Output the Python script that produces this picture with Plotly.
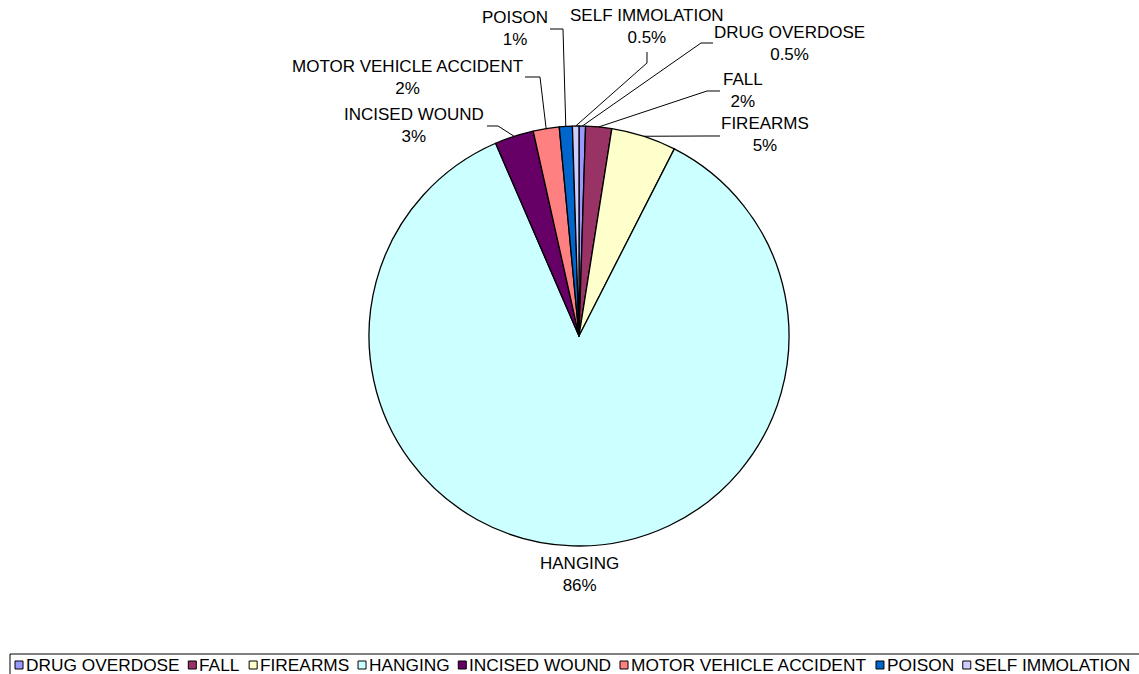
import math
import plotly.graph_objects as go

# ---------------- data ----------------
categories = ["DRUG OVERDOSE", "FALL", "FIREARMS", "HANGING",
              "INCISED WOUND", "MOTOR VEHICLE ACCIDENT", "POISON", "SELF IMMOLATION"]
counts = [1, 4, 10, 172, 6, 4, 2, 1]
colors = ["#9999FF", "#993366", "#FFFFCC", "#CCFFFF",
          "#660066", "#FF8080", "#0066CC", "#CCCCFF"]

# ---------------- layout constants (pixels) ----------------
W, H = 1139, 674
CX, CY, R = 579, 336, 210
FONT = "Liberation Sans, Arial, sans-serif"

# label block centres and leader-line elbow points (layout only)
label_pos = {
    "DRUG OVERDOSE": (789.5, 43.5),
    "FALL": (743, 91),
    "FIREARMS": (765, 135),
    "HANGING": (579, 574),
    "INCISED WOUND": (414, 125),
    "MOTOR VEHICLE ACCIDENT": (407.5, 77.5),
    "POISON": (515, 28.5),
    "SELF IMMOLATION": (646.5, 27),
}
elbows = {
    "DRUG OVERDOSE": [(713, 43), (701, 43)],
    "FALL": [(720, 91), (707, 91)],
    "FIREARMS": [(720, 136), (707, 136)],
    "INCISED WOUND": [(487, 126), (498, 126)],
    "MOTOR VEHICLE ACCIDENT": [(525, 77), (540, 77)],
    "POISON": [(550, 29), (563, 29)],
    "SELF IMMOLATION": [(647, 52), (647, 63)],
}


def px(x):
    return x / W


def py(y):
    return 1 - y / H


total = sum(counts)
pcts = [100.0 * c / total for c in counts]

fig = go.Figure(go.Pie(
    labels=categories, values=counts, sort=False, direction="clockwise",
    rotation=0, marker=dict(colors=colors, line=dict(color="black", width=1.3)),
    textinfo="none", hoverinfo="label+percent", showlegend=False,
    domain=dict(x=[px(CX - R), px(CX + R)], y=[py(CY + R), py(CY - R)]),
))

annotations = []
shapes = []

# labels and leader lines
cum = 0.0
for cat, c, p in zip(categories, counts, pcts):
    mid = (cum + c / 2) / total * 2 * math.pi
    cum += c
    rx = CX + R * math.sin(mid)
    ry = CY - R * math.cos(mid)
    lx, ly = label_pos[cat]
    annotations.append(dict(
        x=px(lx), y=py(ly), xref="paper", yref="paper",
        text=f"{cat}<br>{p:g}%", showarrow=False, align="center",
        xanchor="center", yanchor="middle",
        font=dict(family=FONT, size=17, color="black"),
    ))
    if cat in elbows:
        pts = elbows[cat] + [(rx, ry)]
        path = "M " + " L ".join(f"{px(a):.5f},{py(b):.5f}" for a, b in pts)
        shapes.append(dict(type="path", path=path, xref="paper", yref="paper",
                           line=dict(color="black", width=1)))

# manual legend (Excel-style compact)
LEG_FONT = 17.3
LEG_GAP = 10.5
arial_w = {"A": 667, "B": 667, "C": 722, "D": 722, "E": 667, "F": 611, "G": 778,
           "H": 722, "I": 278, "J": 500, "K": 667, "L": 556, "M": 833, "N": 722,
           "O": 778, "P": 667, "Q": 778, "R": 722, "S": 667, "T": 611, "U": 722,
           "V": 667, "W": 944, "X": 667, "Y": 667, "Z": 611, " ": 278}


def text_w(s, size):
    return sum(arial_w.get(ch, 600) for ch in s) / 1000.0 * size


shapes.append(dict(type="rect", xref="paper", yref="paper",
                   x0=px(10), x1=px(1160), y0=py(654), y1=py(700),
                   line=dict(color="#000000", width=1), fillcolor="rgba(0,0,0,0)"))
x = 15.0
for cat, col in zip(categories, colors):
    shapes.append(dict(type="rect", xref="paper", yref="paper",
                       x0=px(x), x1=px(x + 8), y0=py(669), y1=py(661),
                       line=dict(color="#000000", width=1), fillcolor=col))
    annotations.append(dict(
        x=px(x + 9), y=py(665), xref="paper", yref="paper", text=cat,
        showarrow=False, xanchor="left", yanchor="middle",
        font=dict(family=FONT, size=LEG_FONT, color="black"),
    ))
    x += 9 + text_w(cat, LEG_FONT) + LEG_GAP

fig.update_layout(
    width=W, height=H, autosize=False,
    margin=dict(l=0, r=0, t=0, b=0),
    paper_bgcolor="white", plot_bgcolor="white",
    annotations=annotations, shapes=shapes,
)

fig.write_html(
    "out.html",
    config={"displayModeBar": False},
    post_script="document.body.style.margin='0';document.body.style.overflow='hidden';",
)
